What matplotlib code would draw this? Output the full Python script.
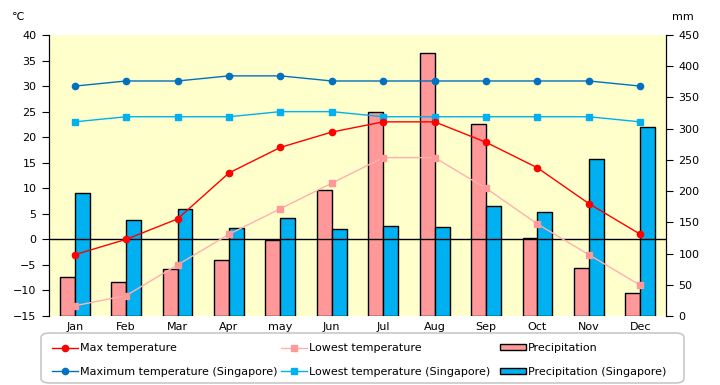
import numpy as np
import matplotlib
matplotlib.use("Agg")
import matplotlib.pyplot as plt
from matplotlib.patches import FancyBboxPatch, Patch
from matplotlib.lines import Line2D

plt.rcParams['font.family'] = ['DejaVu Sans', 'Noto Sans CJK JP']
plt.rcParams['font.size'] = 8

# DATA
months = ["Jan", "Feb", "Mar", "Apr", "may", "Jun", "Jul", "Aug", "Sep", "Oct", "Nov", "Dec"]
max_temp = [-3, 0, 4, 13, 18, 21, 23, 23, 19, 14, 7, 1]
low_temp = [-13, -11, -5, 1, 6, 11, 16, 16, 10, 3, -3, -9]
precip = [62, 54, 75, 90, 122, 201, 326, 421, 307, 125, 77, 37]
sg_max = [30, 31, 31, 32, 32, 31, 31, 31, 31, 31, 31, 30]
sg_low = [23, 24, 24, 24, 25, 25, 24, 24, 24, 24, 24, 23]
sg_precip = [197, 154, 171, 141, 157, 139, 144, 143, 176, 167, 252, 303]

x = np.arange(len(months))

fig = plt.figure(figsize=(7.2, 3.85), dpi=100)
ax = fig.add_axes([49/720, 69/385, 617/720, 281/385])
ax2 = ax.twinx()

#BARS (right axis, mm)
w = 0.29
ax.bar(x, precip, width=-w, align='edge', color='#FF9999', edgecolor='black', linewidth=1)
ax.bar(x, sg_precip, width=w, align='edge', color='#00B0F0', edgecolor='black', linewidth=1)
ax.set_facecolor('#FFFFCC')
ax.set_ylim(0, 450)
ax.set_yticks(range(0, 451, 50))
ax.set_xlim(-0.5, 11.5)
ax.set_xticks(x)
ax.set_xticklabels(months)
ax.tick_params(axis='x', length=0, pad=4)
ax.yaxis.tick_right()
ax.tick_params(axis='y', direction='out', length=5, pad=4)

#LINES (left axis, degC)
ax2.yaxis.tick_left()
ax2.axhline(0, color='black', linewidth=1, zorder=1)
ax2.plot(x, sg_max, color='#0070C0', marker='o', markersize=4.5, linewidth=1, zorder=3)
ax2.plot(x, sg_low, color='#00B0F0', marker='s', markersize=4.5, linewidth=1, zorder=3)
ax2.plot(x, max_temp, color='#FF0000', marker='o', markersize=4.5, linewidth=1, zorder=3)
ax2.plot(x, low_temp, color='#FFB0B0', marker='s', markersize=4.5, markerfacecolor='#FF9999',
         markeredgecolor='#FF9999', linewidth=1, zorder=3)
ax2.set_ylim(-15, 40)
ax2.set_yticks(range(-15, 41, 5))
ax2.tick_params(axis='y', direction='out', length=5, pad=4)

for a in (ax, ax2):
    a.spines['top'].set_visible(False)
    a.spines['bottom'].set_visible(False)

fig.text(12/720, 1 - 17/385, "℃", ha='left', va='center')
fig.text(683/720, 1 - 17/385, "mm", ha='center', va='center')

#LEGEND
frame = FancyBboxPatch((41/720, 2/385), 643/720, 50/385, transform=fig.transFigure,
                       boxstyle="round,pad=0,rounding_size=0.012", facecolor='white',
                       edgecolor='#C8C8C8', linewidth=1.2)
fig.patches.append(frame)

handles = [
    Line2D([], [], color='#FF0000', marker='o', markersize=4.5, linewidth=1),
    Line2D([], [], color='#0070C0', marker='o', markersize=4.5, linewidth=1),
    Line2D([], [], color='#FFB0B0', marker='s', markersize=4.5, markerfacecolor='#FF9999',
           markeredgecolor='#FF9999', linewidth=1),
    Line2D([], [], color='#00B0F0', marker='s', markersize=4.5, linewidth=1),
    Patch(facecolor='#FF9999', edgecolor='black'),
    Patch(facecolor='#00B0F0', edgecolor='black'),
]
labels = ["Max temperature", "Maximum temperature (Singapore)", "Lowest temperature",
          "Lowest temperature (Singapore)", "Precipitation", "Precipitation (Singapore)"]
for i, xpos in enumerate([52, 281, 500]):
    leg = fig.legend(handles[2*i:2*i+2], labels[2*i:2*i+2], loc='center left',
                     bbox_to_anchor=(xpos/720, 1 - 360/385), frameon=False,
                     handlelength=2.3, handleheight=0.5, handletextpad=0.25,
                     labelspacing=1.25, borderaxespad=0, borderpad=0)

fig.savefig("out.png", dpi=100)
